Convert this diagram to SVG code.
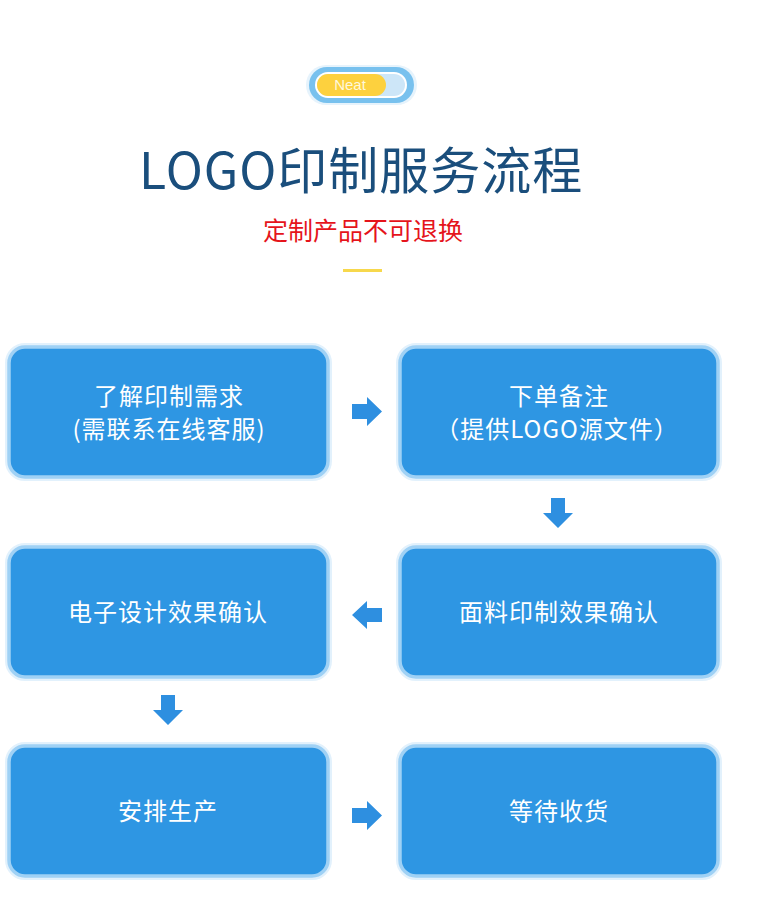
<svg xmlns="http://www.w3.org/2000/svg" width="758" height="910" viewBox="0 0 758 910">
  <defs>
    <style>
      .halo { fill: none; stroke: #e2f1fc; stroke-width: 8; }
      .box { fill: #2e96e3; stroke: #9fd1f5; stroke-width: 3.5; }
      .lbl { font-family: "Noto Sans CJK SC", "Noto Sans", sans-serif; font-size: 24px; fill: #ffffff; text-anchor: middle; letter-spacing: 1px; }
      .arr { fill: #2e8fe0; }
    </style>
  </defs>
  <rect width="758" height="910" fill="#ffffff"/>

  <!-- Header -->
  <g id="badge">
    <rect x="306" y="65" width="111" height="40" rx="20" fill="#e6f3fc"/>
    <rect x="309" y="67" width="105" height="36" rx="18" fill="#78c1ee"/>
    <rect x="315" y="72" width="92" height="26" rx="13" fill="#ffffff"/>
    <rect x="317" y="74" width="88" height="22" rx="11" fill="#cde6f8"/>
    <rect x="317" y="74" width="69" height="22" rx="11" fill="#fdd13e"/>
    <text x="350" y="90" font-family="Liberation Sans, Arial, sans-serif" font-size="15" fill="#fff8dc" text-anchor="middle">Neat</text>
  </g>
  <g id="title">
    <text x="139" y="189" font-family="Noto Sans CJK SC, Noto Sans, sans-serif" font-size="50" letter-spacing="1" fill="#1a4e7c">LOGO印制服务流程</text>
    <text x="363" y="240" font-family="Noto Sans CJK SC, Noto Sans, sans-serif" font-size="25" fill="#e5141b" text-anchor="middle">定制产品不可退换</text>
    <rect x="343" y="269" width="39" height="3" fill="#f7d84c"/>
  </g>

  <!-- Nodes -->
  <g id="node1">
    <rect class="halo" x="9" y="347" width="319" height="130" rx="16"/>
    <rect class="box" x="9" y="347" width="319" height="130" rx="16"/>
    <text class="lbl" x="169" y="405">了解印制需求</text>
    <text class="lbl" x="169" y="438">(需联系在线客服)</text>
  </g>
  <g id="node2">
    <rect class="halo" x="400" y="347" width="318" height="130" rx="16"/>
    <rect class="box" x="400" y="347" width="318" height="130" rx="16"/>
    <text class="lbl" x="559" y="405">下单备注</text>
    <text class="lbl" x="557" y="438">（提供LOGO源文件）</text>
  </g>
  <g id="node3">
    <rect class="halo" x="9" y="547" width="319" height="130" rx="16"/>
    <rect class="box" x="9" y="547" width="319" height="130" rx="16"/>
    <text class="lbl" x="168" y="621">电子设计效果确认</text>
  </g>
  <g id="node4">
    <rect class="halo" x="400" y="547" width="318" height="130" rx="16"/>
    <rect class="box" x="400" y="547" width="318" height="130" rx="16"/>
    <text class="lbl" x="559" y="621">面料印制效果确认</text>
  </g>
  <g id="node5">
    <rect class="halo" x="9" y="746" width="319" height="130" rx="16"/>
    <rect class="box" x="9" y="746" width="319" height="130" rx="16"/>
    <text class="lbl" x="168" y="820">安排生产</text>
  </g>
  <g id="node6">
    <rect class="halo" x="400" y="746" width="318" height="130" rx="16"/>
    <rect class="box" x="400" y="746" width="318" height="130" rx="16"/>
    <text class="lbl" x="559" y="820">等待收货</text>
  </g>

  <!-- Connectors -->
  <g id="connectors">
    <polygon class="arr" points="352,404 367,404 367,397 382,411.5 367,426 367,419 352,419"/>
    <polygon class="arr" points="551,498 565,498 565,513 573,513 558,528 543,513 551,513"/>
    <polygon class="arr" points="382,608 367,608 367,601 352,615 367,629 367,622 382,622"/>
    <polygon class="arr" points="161,695 175,695 175,710 183,710 168,725 153,710 161,710"/>
    <polygon class="arr" points="352,808 367,808 367,801 382,815.5 367,830 367,823 352,823"/>
  </g>
</svg>
